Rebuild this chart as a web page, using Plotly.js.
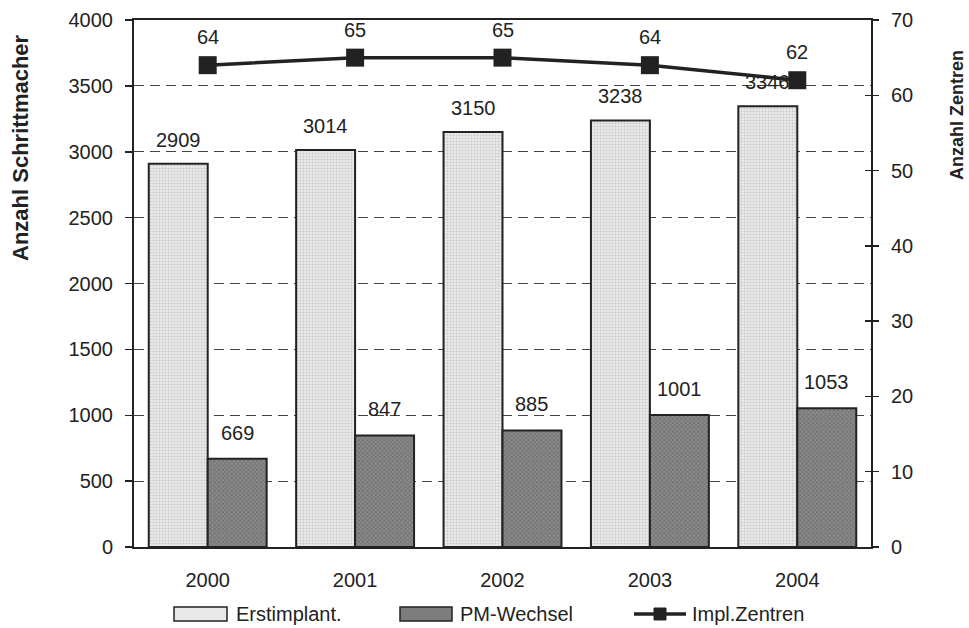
<!DOCTYPE html>
<html><head><meta charset="utf-8">
<script src="https://cdn.plot.ly/plotly-3.0.1.min.js"></script>
<style>body{margin:0;background:#fff}#c{width:969px;height:628px}</style>
</head><body><div id="c"></div>
<script>
const years = ['2000','2001','2002','2003','2004'];
const erstimplant = [2909, 3014, 3150, 3238, 3346];
const pmWechsel = [669, 847, 885, 1001, 1053];
const zentren = [64, 65, 65, 64, 62];
const legendNames = ['Erstimplant.', 'PM-Wechsel', 'Impl.Zentren'];

const bargap = 0.2;
const off = (1 - bargap) / 4;
const font = 'Liberation Sans, Arial, sans-serif';
const tc = '#222';
const lightFill = '#e4e4e4', darkFill = '#7d7d7d';

const traces = [
  {type:'bar', name:legendNames[0], x:years, y:erstimplant,
   marker:{color:lightFill, line:{color:'#222', width:2},
           pattern:{shape:'.', fgcolor:'#c8c8c8', bgcolor:'#ebebeb', size:3, solidity:0.35}}},
  {type:'bar', name:legendNames[1], x:years, y:pmWechsel,
   marker:{color:darkFill, line:{color:'#222', width:2},
           pattern:{shape:'x', fgcolor:'#6a6a6a', bgcolor:'#8a8a8a', size:3, solidity:0.4}}},
  {type:'scatter', mode:'lines+markers', name:legendNames[2], x:years, y:zentren, yaxis:'y2',
   line:{color:'#222', width:3.5}, marker:{symbol:'square', size:18, color:'#222'}},
  // carrier for the inner half of the right-axis cross ticks (draws nothing)
  {type:'scatter', mode:'lines', x:years, y:zentren, yaxis:'y3', line:{width:0}, hoverinfo:'skip', showlegend:false}
];

const lab = {family:font, size:20, color:tc};
const ann = [];
years.forEach((yr, i) => {
  ann.push({x:i - off, y:erstimplant[i], xref:'x', yref:'y', text:String(erstimplant[i]),
    showarrow:false, yanchor:'bottom', yshift:11, font:lab});
  ann.push({x:i + off, y:pmWechsel[i], xref:'x', yref:'y', text:String(pmWechsel[i]),
    showarrow:false, yanchor:'bottom', yshift:13, font:lab});
  ann.push({x:i, y:zentren[i], xref:'x', yref:'y2', text:String(zentren[i]),
    showarrow:false, yanchor:'bottom', yshift:15, font:lab});
});
// axis titles
ann.push({xref:'paper', yref:'paper', x:(20-134)/737, y:(547-148)/527, xanchor:'center', yanchor:'middle',
  text:'<b>Anzahl Schrittmacher</b>', textangle:-90, showarrow:false, font:{family:font, size:22, color:tc}});
ann.push({xref:'paper', yref:'paper', x:(957-134)/737, y:(547-115)/527, xanchor:'center', yanchor:'middle',
  text:'<b>Anzahl Zentren</b>', textangle:-90, showarrow:false, font:{family:font, size:18, color:tc}});

// custom legend (layout decoration)
const px = v => (v - 134) / 737, py = v => (547 - v) / 527;
const legY = 614;
ann.push({xref:'paper', yref:'paper', x:px(234), y:py(legY), xanchor:'left', yanchor:'middle',
  text:legendNames[0], showarrow:false, font:lab});
ann.push({xref:'paper', yref:'paper', x:px(458), y:py(legY), xanchor:'left', yanchor:'middle',
  text:legendNames[1], showarrow:false, font:lab});
ann.push({xref:'paper', yref:'paper', x:px(690), y:py(legY), xanchor:'left', yanchor:'middle',
  text:legendNames[2], showarrow:false, font:lab});
const shapes = [
  {type:'rect', xref:'paper', yref:'paper', x0:px(174), x1:px(227), y0:py(607), y1:py(621),
   fillcolor:'#e8e8e8', line:{color:'#222', width:1.5}},
  {type:'rect', xref:'paper', yref:'paper', x0:px(400), x1:px(452), y0:py(607), y1:py(621),
   fillcolor:darkFill, line:{color:'#222', width:1.5}},
  {type:'line', xref:'paper', yref:'paper', x0:px(634), x1:px(686), y0:py(legY), y1:py(legY),
   line:{color:'#222', width:3.5}},
  {type:'rect', xref:'paper', yref:'paper', x0:px(654), x1:px(666), y0:py(608), y1:py(620),
   fillcolor:'#222', line:{color:'#222', width:1}}
];

const layout = {
  width:969, height:628,
  margin:{l:134, r:98, t:20, b:81},
  paper_bgcolor:'#fff', plot_bgcolor:'#fff',
  barmode:'group', bargap:bargap, bargroupgap:0,
  font:{family:font, size:20, color:tc},
  showlegend:false,
  xaxis:{type:'category', showline:true, linecolor:'#222', linewidth:2, mirror:true,
         ticks:'', showgrid:false, tickfont:{size:20}, ticklabelstandoff:14},
  yaxis:{range:[0,4000], dtick:500, showline:true, linecolor:'#222', linewidth:2,
         ticks:'outside', ticklen:7, tickcolor:'#222', tickwidth:1.5,
         showgrid:true, gridcolor:'#444', griddash:'10px,6px', gridwidth:1,
         zeroline:false, tickfont:{size:20}, ticklabelstandoff:8},
  yaxis2:{range:[0,70], dtick:10, overlaying:'y', side:'right', showline:true,
          linecolor:'#222', linewidth:2, ticks:'outside', ticklen:6, tickcolor:'#222', tickwidth:1.5,
          showgrid:false, zeroline:false, tickfont:{size:20}, ticklabelstandoff:8},
  yaxis3:{range:[0,70], dtick:10, overlaying:'y', side:'right', showline:false,
          ticks:'inside', ticklen:6, tickcolor:'#222', tickwidth:1.5,
          showticklabels:false, showgrid:false, zeroline:false},
  annotations:ann, shapes:shapes
};
Plotly.newPlot('c', traces, layout, {staticPlot:true});
</script></body></html>
